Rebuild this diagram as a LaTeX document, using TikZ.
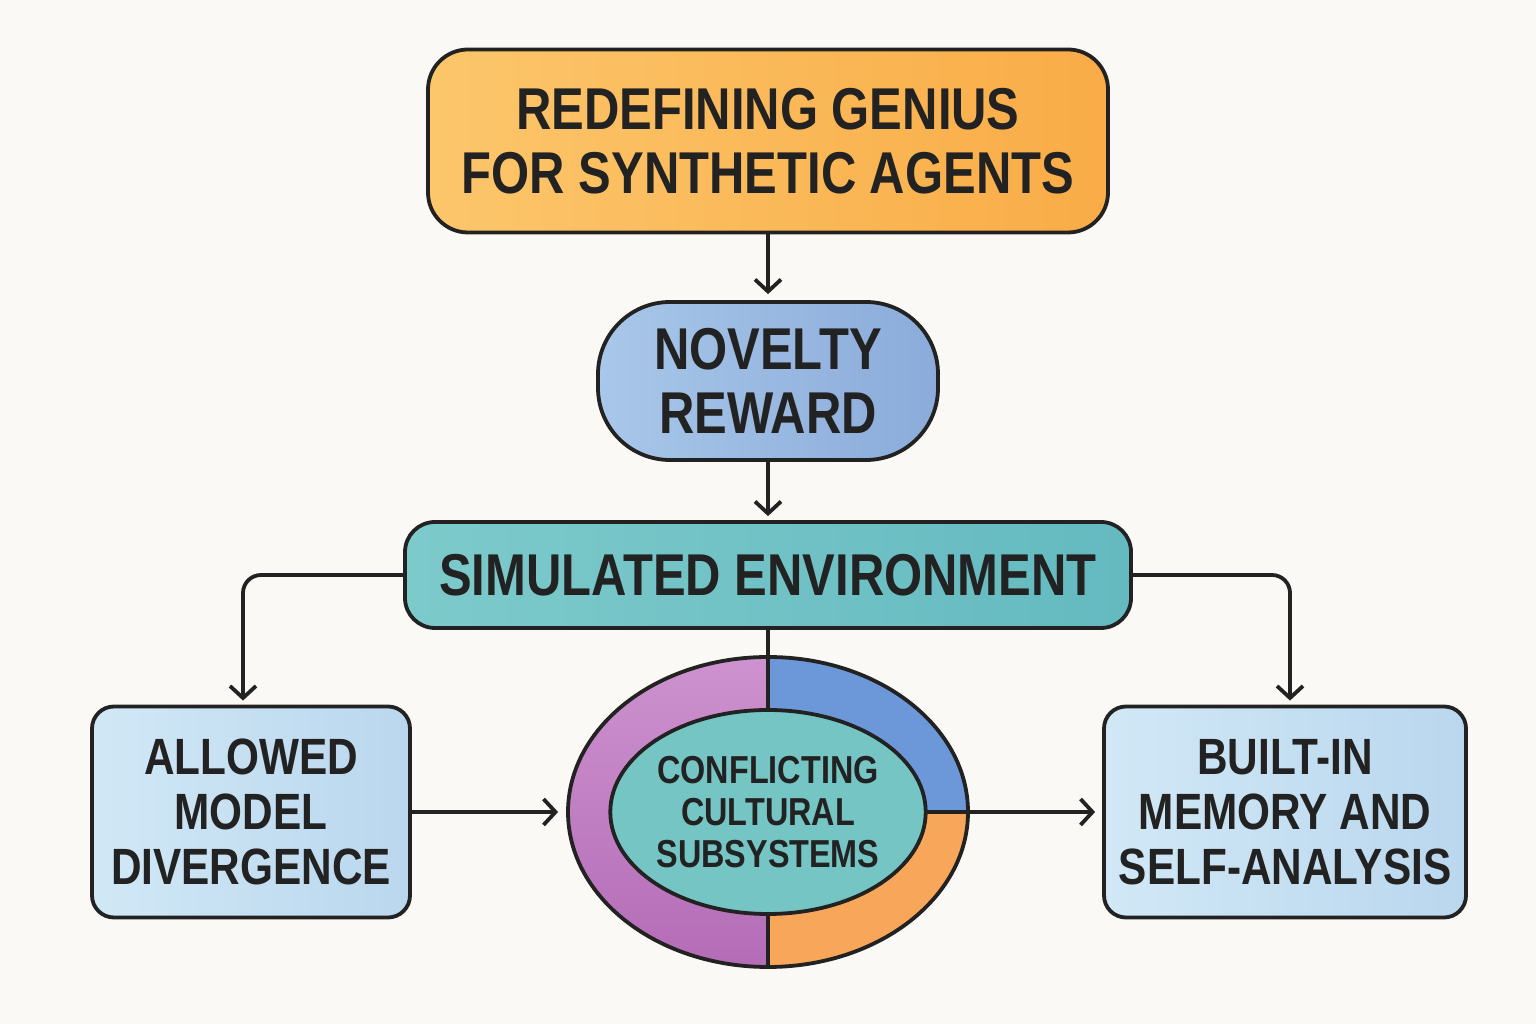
\documentclass[tikz,border=0pt]{standalone}
\usepackage{fontspec}
\setmainfont{Liberation Sans}[FakeStretch=0.83]
\usetikzlibrary{arrows.meta, shapes.geometric, calc}

\definecolor{ink}{HTML}{222222}
\definecolor{paper}{HTML}{FBF9F5}
\definecolor{goldL}{HTML}{FCC66B}
\definecolor{goldR}{HTML}{F9AC47}
\definecolor{skyL}{HTML}{A8C7E9}
\definecolor{skyR}{HTML}{8BABDA}
\definecolor{tealL}{HTML}{7DCACB}
\definecolor{tealR}{HTML}{64BAC0}
\definecolor{iceL}{HTML}{D1E8F6}
\definecolor{iceR}{HTML}{BAD7EE}
\definecolor{plumT}{HTML}{CD92CF}
\definecolor{plumB}{HTML}{B46CB6}
\definecolor{cobalt}{HTML}{6C98DA}
\definecolor{apricot}{HTML}{F8A65A}
\definecolor{lagoon}{HTML}{74C5C4}

\begin{document}
\begin{tikzpicture}[x=1pt, y=1pt,
    line/.style={draw=ink, line width=3.8pt},
    arr/.style={line, -{Straight Barb[length=12pt, width=26pt]}},
    box/.style={line, align=center, text=ink, inner sep=0pt},
    big/.style={font=\bfseries\fontsize{59}{64}\selectfont},
    mid/.style={font=\bfseries\fontsize{51}{55}\selectfont}]

    % Canvas
    \fill[paper] (0,0) rectangle (1536,1024);
    \useasboundingbox (0,0) rectangle (1536,1024);

    % Boxes
    \node[box, big, rounded corners=40pt, minimum width=680pt, minimum height=183pt,
          left color=goldL, right color=goldR] (genius) at (768,883)
          {REDEFINING GENIUS\\FOR SYNTHETIC AGENTS};
    \node[box, big, rounded corners=72pt, minimum width=340pt, minimum height=158pt,
          left color=skyL, right color=skyR] (novelty) at (768,643)
          {NOVELTY\\REWARD};
    \node[box, big, rounded corners=30pt, minimum width=726pt, minimum height=106pt,
          left color=tealL, right color=tealR] (env) at (768,449)
          {SIMULATED ENVIRONMENT};
    \node[box, mid, rounded corners=22pt, minimum width=318pt, minimum height=211pt,
          left color=iceL, right color=iceR] (diverge) at (251,212)
          {ALLOWED\\MODEL\\DIVERGENCE};
    \node[box, mid, rounded corners=22pt, minimum width=362pt, minimum height=211pt,
          left color=iceL, right color=iceR] (memory) at (1285,212)
          {BUILT-IN\\MEMORY AND\\SELF-ANALYSIS};

    % Cultural rings
    \coordinate (hub) at (768,212);
    \shade[top color=plumT, bottom color=plumB] (hub) -- ++(0,155)
        arc[start angle=90, end angle=270, x radius=200pt, y radius=155pt] -- cycle;
    \fill[cobalt] (hub) -- ++(200,0)
        arc[start angle=0, end angle=90, x radius=200pt, y radius=155pt] -- cycle;
    \fill[apricot] (hub) -- ++(0,-155)
        arc[start angle=270, end angle=360, x radius=200pt, y radius=155pt] -- cycle;
    \node[line, ellipse, inner sep=0pt, minimum width=400pt, minimum height=310pt] (ring) at (hub) {};
    \draw[line] (ring.north) -- (ring.south);
    \draw[line] (hub) -- (ring.east);
    \node[box, ellipse, fill=lagoon, minimum width=312pt, minimum height=204pt,
          font=\bfseries\fontsize{39}{42}\selectfont] (core) at (hub)
          {CONFLICTING\\CULTURAL\\SUBSYSTEMS};

    % Connectors
    \draw[arr, shorten >=6pt] (genius) -- (novelty);
    \draw[arr, shorten >=4pt] (novelty) -- (env);
    \draw[arr, rounded corners=18pt, shorten >=4pt] (env.west) -| ([xshift=-8pt]diverge.north);
    \draw[arr, rounded corners=18pt, shorten >=4pt] (env.east) -| ([xshift=5pt]memory.north);
    \draw[line] (env.south) -- (ring.north);
    \draw[arr, shorten >=8pt] (diverge.east) -- (ring.west);
    \draw[arr, shorten >=7pt] (ring.east) -- (memory.west);
\end{tikzpicture}
\end{document}
